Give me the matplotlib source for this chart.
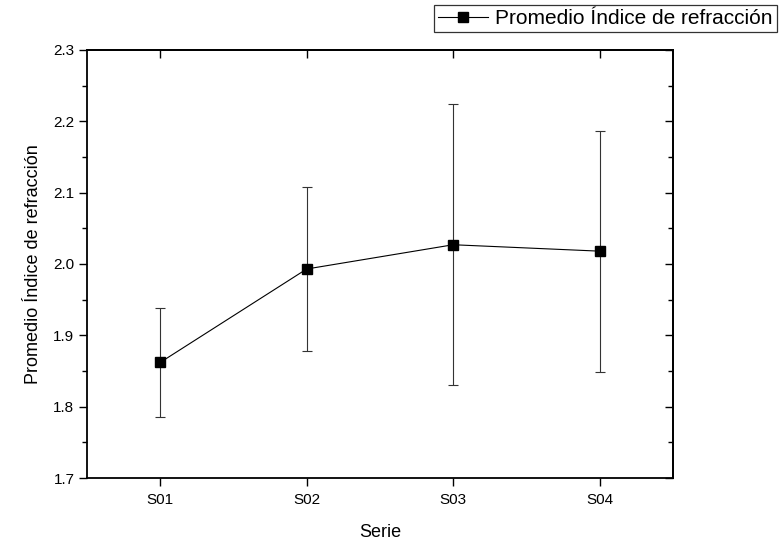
import matplotlib.pyplot as plt
from matplotlib.lines import Line2D
from matplotlib.ticker import MultipleLocator

plt.rcParams['font.family'] = ['Liberation Sans', 'DejaVu Sans']

series = ['S01', 'S02', 'S03', 'S04']
mean_index = [1.862, 1.993, 2.027, 2.018]
error_index = [0.077, 0.115, 0.197, 0.169]

fig = plt.figure(figsize=(7.83, 5.48), dpi=100)
ax = fig.add_axes([0.111, 0.1277, 0.7485, 0.7811])

x = list(range(1, len(series) + 1))

# mean values with error bars, Origin-like style
ax.errorbar(x, mean_index, yerr=error_index, color='black', ecolor='#333333',
            elinewidth=0.8, capsize=3.5, capthick=0.8, linewidth=0.8,
            marker='s', markersize=6.5)

ax.set_xlim(0.5, 4.5)
ax.set_ylim(1.7, 2.3)
ax.set_xticks(x)
ax.set_xticklabels(series)
ax.yaxis.set_major_locator(MultipleLocator(0.1))
ax.yaxis.set_minor_locator(MultipleLocator(0.05))
ax.yaxis.set_major_formatter(plt.FormatStrFormatter('%.1f'))

ax.tick_params(axis='both', which='major', direction='out', length=6, width=1.0,
               labelsize=11, pad=3)
ax.tick_params(axis='x', which='major', pad=5)
ax.tick_params(axis='y', which='minor', direction='out', length=3.5, width=1.0)
ax.tick_params(axis='x', which='minor', bottom=False)

for s in ax.spines.values():
    s.set_linewidth(1.3)

# inward ticks on the top and right sides
top = ax.secondary_xaxis('top')
top.set_xticks(x)
top.tick_params(direction='in', length=6, width=1.0, labeltop=False)
top.spines['top'].set_linewidth(1.3)
right = ax.secondary_yaxis('right')
right.yaxis.set_major_locator(MultipleLocator(0.1))
right.yaxis.set_minor_locator(MultipleLocator(0.05))
right.tick_params(which='major', direction='in', length=6, width=1.0, labelright=False)
right.tick_params(which='minor', direction='in', length=3.5, width=1.0)
right.spines['right'].set_linewidth(1.3)

ax.set_xlabel('Serie', fontsize=13, labelpad=12)
ax.set_ylabel('Promedio Índice de refracción', fontsize=13, labelpad=8)

handle = Line2D([], [], color='black', linewidth=0.8, marker='s', markersize=7)
leg = fig.legend([handle], ['Promedio Índice de refracción'], loc='upper right',
                 bbox_to_anchor=(777 / 783, 1 - 5 / 548), fontsize=15,
                 frameon=True, fancybox=False, edgecolor='black', borderpad=0.2,
                 handlelength=2.4, handletextpad=0.35, borderaxespad=0)
leg.get_frame().set_linewidth(0.9)

fig.savefig('out.png', dpi=100)
